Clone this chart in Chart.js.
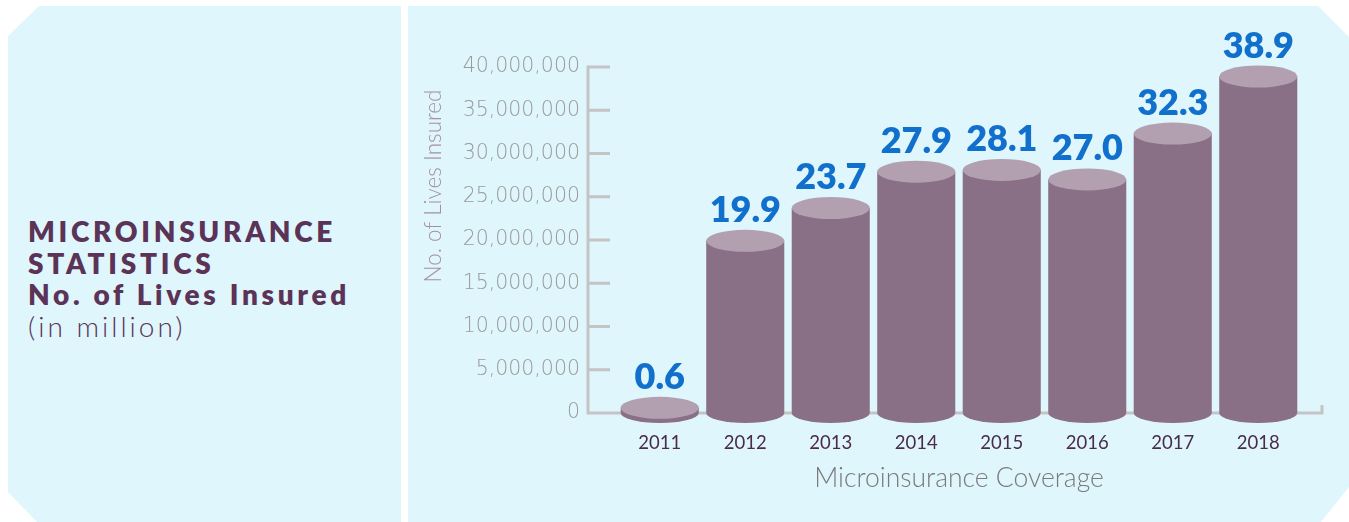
<!DOCTYPE html>
<html>
<head>
<meta charset="utf-8">
<script src="https://cdn.jsdelivr.net/npm/chart.js@4.4.1/dist/chart.umd.min.js"></script>
<style>
  html, body { margin: 0; padding: 0; background: #ffffff; width: 1349px; height: 522px; overflow: hidden; }
  .panel { position: absolute; background: rgb(223,246,253); }
  #leftPanel { left: 0; top: 0; width: 1349px; height: 522px;
    clip-path: polygon(8px 36px, 39px 6px, 401px 6px, 401px 522px, 37px 522px, 8px 492px); }
  #rightPanel { left: 0; top: 0; width: 1349px; height: 522px;
    clip-path: polygon(408px 6px, 1318px 6px, 1349px 37px, 1349px 487px, 1321px 522px, 408px 522px); }
  #heading { position: absolute; left: 28px; top: 216px; color: #5a3357; font-family: Lato, sans-serif; font-size: 28px; line-height: 31.5px; white-space: nowrap; }
  #heading .b { font-weight: 800; letter-spacing: 3.7px; }
  #heading .n { font-weight: 800; letter-spacing: 3.7px; }
  #heading .l { font-weight: 300; letter-spacing: 3px; }
  canvas { position: absolute; left: 0; top: 0; }
</style>
</head>
<body>
<div class="panel" id="leftPanel"></div>
<div class="panel" id="rightPanel"></div>
<div id="heading">
  <div class="b">MICROINSURANCE</div>
  <div class="b">STATISTICS</div>
  <div class="n">No. of Lives Insured</div>
  <div class="l">(in million)</div>
</div>
<canvas id="c" width="1349" height="522"></canvas>
<script>
const years = ['2011', '2012', '2013', '2014', '2015', '2016', '2017', '2018'];
const livesInsured = [600000, 19900000, 23700000, 27900000, 28100000, 27000000, 32300000, 38900000];
const yTickMax = 40000000;
const yTickStep = 5000000;
const xAxisTitle = 'Microinsurance Coverage';
const yAxisTitle = 'No. of Lives Insured';

const BODY = 'rgb(138,112,135)';
const TOP = 'rgb(178,160,177)';
const AXIS = '#c4c4c4';

const axisPlugin = {
  id: 'axisLines',
  beforeDatasetsDraw(chart) {
    const { ctx, chartArea, scales } = chart;
    const ys = scales.y;
    const axX = chartArea.left - 29;
    const y0 = ys.getPixelForValue(0);
    const yTop = ys.getPixelForValue(yTickMax);
    ctx.save();
    ctx.strokeStyle = AXIS;
    ctx.lineWidth = 3;
    ctx.beginPath();
    ctx.moveTo(axX, yTop - 1.5);
    ctx.lineTo(axX, y0);
    ys.ticks.forEach(t => {
      if (t.value === 0) return;
      const p = ys.getPixelForValue(t.value);
      ctx.moveTo(axX, p);
      ctx.lineTo(axX + 22, p);
    });
    ctx.moveTo(axX - 1.5, y0);
    ctx.lineTo(chartArea.right + 21, y0);
    ctx.lineTo(chartArea.right + 21, y0 - 8);
    ctx.stroke();
    // y axis title
    ctx.translate(434, 186);
    ctx.rotate(-Math.PI / 2);
    ctx.fillStyle = '#a58fa3';
    ctx.font = '300 22.5px Lato, sans-serif';
    ctx.textAlign = 'center';
    ctx.textBaseline = 'middle';
    ctx.fillText(yAxisTitle, 0, 0);
    ctx.restore();
  }
};

const cylinderPlugin = {
  id: 'cylinders',
  afterDatasetsDraw(chart) {
    const { ctx } = chart;
    const meta = chart.getDatasetMeta(0);
    const ds = chart.data.datasets[0];
    ctx.save();
    meta.data.forEach((bar, i) => {
      const x = bar.x, y = bar.y, base = bar.base;
      const rx = bar.width / 2;
      const ryT = 11, ryB = 10;
      ctx.fillStyle = BODY;
      ctx.beginPath();
      ctx.moveTo(x - rx, y);
      ctx.lineTo(x - rx, base);
      ctx.ellipse(x, base, rx, ryB, 0, Math.PI, 0, true);
      ctx.lineTo(x + rx, y);
      ctx.closePath();
      ctx.fill();
      ctx.fillStyle = TOP;
      ctx.beginPath();
      ctx.ellipse(x, y, rx, ryT, 0, 0, Math.PI * 2);
      ctx.fill();
      // value label
      ctx.fillStyle = '#1170cc';
      ctx.font = '800 36px Lato, sans-serif';
      ctx.textAlign = 'center';
      ctx.textBaseline = 'alphabetic';
      ctx.fillText((ds.data[i] / 1e6).toFixed(1), x, y - ryT - 8);
    });
    ctx.restore();
  }
};

new Chart(document.getElementById('c'), {
  type: 'bar',
  data: {
    labels: years,
    datasets: [{
      data: livesInsured,
      backgroundColor: 'rgba(0,0,0,0)',
      borderWidth: 0,
      barPercentage: 0.913,
      categoryPercentage: 1
    }]
  },
  options: {
    responsive: false,
    animation: false,
    devicePixelRatio: 1,
    layout: { padding: { left: 0, top: 67, right: 48, bottom: 0 } },
    plugins: { legend: { display: false }, tooltip: { enabled: false }, title: { display: false } },
    scales: {
      x: {
        grid: { display: false, drawTicks: false },
        border: { display: false },
        ticks: { color: '#4b2b4a', font: { family: 'Lato', size: 18.5 }, padding: 19 },
        title: { display: true, text: xAxisTitle, color: '#7a7a7a', font: { family: 'Lato', size: 26.5, weight: 300 }, padding: { top: 0, bottom: 28 } },
        afterFit(s) { s.height = 109; }
      },
      y: {
        min: 0,
        max: yTickMax,
        grid: { display: false, drawTicks: false },
        border: { display: false },
        ticks: {
          stepSize: yTickStep,
          color: '#9a9a9a',
          font: { family: "'DejaVu Sans', Lato, sans-serif", size: 20.5, weight: 200 },
          padding: 37,
          callback: v => v.toLocaleString('en-US')
        },
        afterFit(s) { s.width = 617; }
      }
    }
  },
  plugins: [axisPlugin, cylinderPlugin]
});
</script>
</body>
</html>
